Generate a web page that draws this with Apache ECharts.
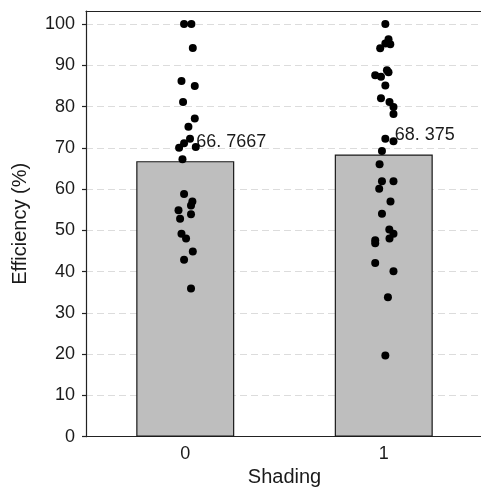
<!DOCTYPE html>
<html>
<head>
<meta charset="utf-8">
<script src="https://cdn.jsdelivr.net/npm/echarts@6/dist/echarts.min.js"></script>
<style>
html,body{margin:0;padding:0;background:#fff;}
#chart{width:481px;height:487px;}
</style>
</head>
<body>
<div id="chart"></div>
<script>
// Data
var categories = ['0', '1'];
var meanValues = [66.7667, 68.375];
var meanLabels = ['66. 7667', '68. 375'];
var yTicks = [0, 10, 20, 30, 40, 50, 60, 70, 80, 90, 100];

// Shading 0: individual efficiencies and their horizontal jitter (category units)
var group0Values = [100, 100, 94.2, 86.2, 85.0, 81.1, 77.1, 75.1, 72.2, 71.1, 70.0, 70.2,
  67.2, 58.8, 57.0, 56.0, 54.9, 53.9, 52.8, 49.2, 48.0, 44.9, 42.9, 35.9];
var group0Jitter = [-0.006, 0.031, 0.038, -0.019, 0.048, -0.011, 0.048, 0.016, 0.024, -0.006, -0.031, 0.053,
  -0.014, -0.006, 0.036, 0.029, -0.034, 0.029, -0.026, -0.019, 0.004, 0.038, -0.006, 0.029];

// Shading 1
var group1Values = [100, 96.3, 95.3, 94.1, 95.1, 88.8, 88.3, 87.6, 87.2, 85.1, 82.0, 81.1, 79.9, 78.2,
  72.2, 71.6, 69.2, 66.0, 61.9, 61.9, 60.1, 57.0, 54.0, 50.2, 49.2, 48.0, 47.6, 46.9, 42.1, 40.1, 33.8, 19.7];
var group1Jitter = [0.008, 0.024, 0.008, -0.018, 0.033, 0.016, 0.024, -0.043, -0.014, 0.008, -0.014, 0.029, 0.049, 0.049,
  0.008, 0.049, -0.009, -0.021, -0.009, 0.049, -0.023, 0.034, -0.009, 0.028, 0.049, 0.029, -0.043, -0.043, -0.043, 0.049, 0.021, 0.008];

var points = [];
group0Values.forEach(function (v, i) { points.push([0 + group0Jitter[i], v]); });
group1Values.forEach(function (v, i) { points.push([1 + group1Jitter[i], v]); });

var FONT = "'Liberation Sans', Arial, sans-serif";
var TXT = '#1a1a1a';
var LINE = '#222';

var chart = echarts.init(document.getElementById('chart'), null, {renderer: 'canvas'});
chart.setOption({
  animation: false,
  backgroundColor: '#ffffff',
  grid: {left: 86, top: 11, right: -2, bottom: 50.3, containLabel: false, outerBoundsMode: 'none'},
  xAxis: [{
    type: 'category',
    data: categories,
    name: 'Shading',
    nameLocation: 'middle',
    nameGap: 31,
    nameTextStyle: {fontFamily: FONT, fontSize: 20, color: TXT},
    axisLine: {onZero: false, lineStyle: {color: LINE, width: 1.2}},
    axisTick: {alignWithLabel: true, length: 4, lineStyle: {color: LINE, width: 1.2}},
    axisLabel: {fontFamily: FONT, fontSize: 18, color: TXT, margin: 8},
    splitLine: {show: false}
  }, {
    type: 'value',
    min: -0.5, max: 1.5,
    position: 'top',
    axisLine: {show: true, onZero: false, lineStyle: {color: LINE, width: 1.2}},
    axisTick: {show: false},
    axisLabel: {show: false},
    splitLine: {show: false}
  }],
  yAxis: {
    type: 'value',
    min: 0, max: 103.15, interval: 10,
    name: 'Efficiency (%)',
    nameLocation: 'middle',
    nameGap: 56,
    nameTextStyle: {fontFamily: FONT, fontSize: 20, color: TXT},
    axisLine: {show: true, onZero: false, lineStyle: {color: LINE, width: 1.2}},
    axisTick: {show: true, length: 4, customValues: yTicks, lineStyle: {color: LINE, width: 1.2}},
    axisLabel: {fontFamily: FONT, fontSize: 18, color: TXT, margin: 11, customValues: yTicks},
    splitLine: {show: true, lineStyle: {color: '#dcdcdc', width: 1.2, type: [7, 4]}}
  },
  series: [{
    type: 'bar',
    xAxisIndex: 0,
    data: meanValues,
    barWidth: 98,
    itemStyle: {color: '#bebebe', borderColor: '#1a1a1a', borderWidth: 1.2},
    label: {
      show: true,
      position: [60, -19],
      align: 'left',
      verticalAlign: 'middle',
      fontFamily: FONT, fontSize: 18, color: TXT,
      formatter: function (p) { return meanLabels[p.dataIndex]; }
    },
    z: 2
  }, {
    type: 'scatter',
    xAxisIndex: 1,
    data: points,
    symbol: 'circle',
    symbolSize: 8,
    itemStyle: {color: '#000', opacity: 1},
    z: 3
  }]
});
</script>
</body>
</html>
